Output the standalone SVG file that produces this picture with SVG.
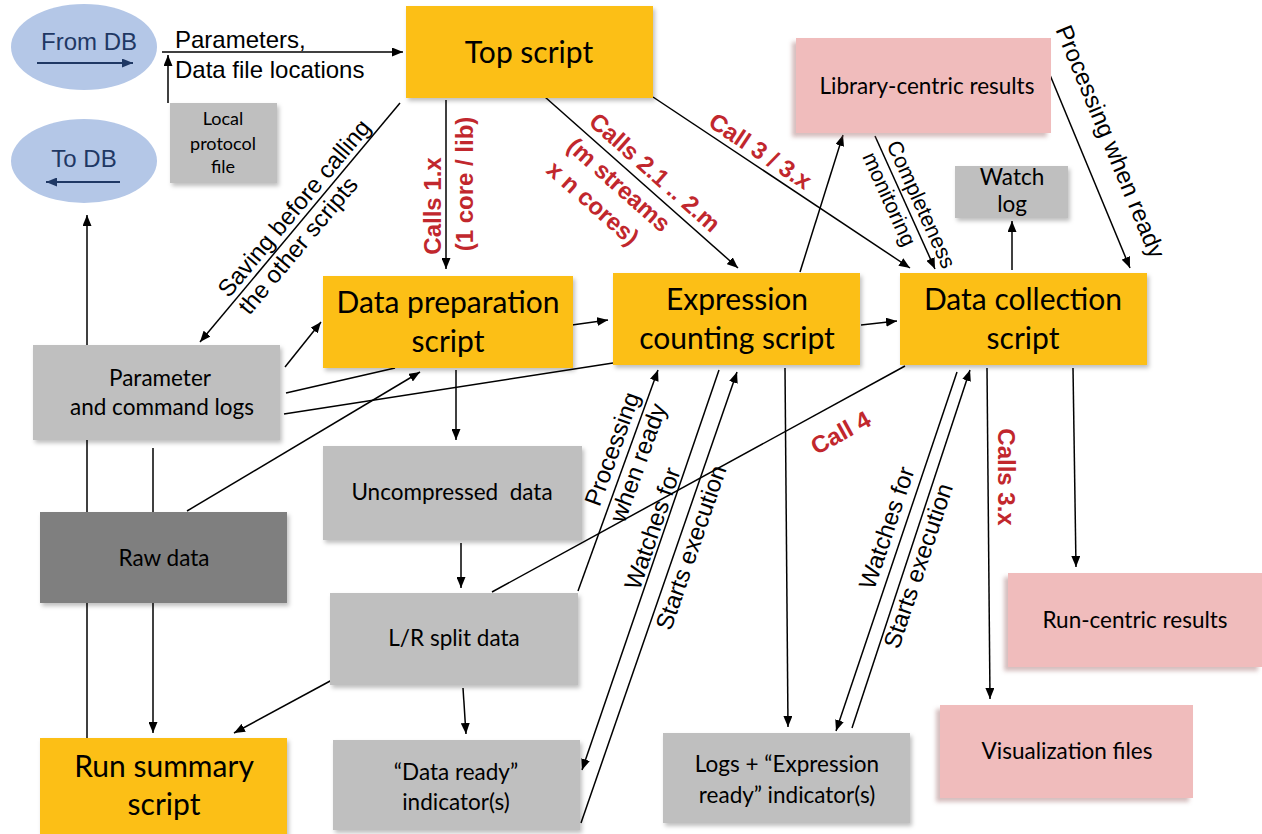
<svg xmlns="http://www.w3.org/2000/svg" width="1262" height="834" viewBox="0 0 1262 834">
<style>
.c{stroke:#000;stroke-width:1.5;fill:none}
.a{marker-end:url(#ah)}
.or{fill:#fcbf14;filter:url(#sh)}
.gr{fill:#bfbfbf;filter:url(#sh)}
.dg{fill:#7f7f7f;filter:url(#sh)}
.pk{fill:#f0bcbc;filter:url(#shp)}
.el{fill:#b4c7e7}
.bx{font-family:Lato,"Open Sans",sans-serif;fill:#000;text-anchor:middle}
.big{font-size:30px}
.sm{font-size:22.5px}
.xs{font-size:18px}
.lbl{font-family:"Liberation Sans",Arial,sans-serif;font-size:24px;fill:#000}
.red{font-family:"Liberation Sans",Arial,sans-serif;font-size:24px;font-weight:bold;fill:#c1272d}
.db{font-family:"Liberation Sans",Arial,sans-serif;font-size:24px;fill:#1f3864;text-anchor:middle}
</style>
<defs>
<marker id="ah" markerWidth="11" markerHeight="9" refX="11" refY="4.5" orient="auto" markerUnits="userSpaceOnUse"><path d="M0,0 L11,4.5 L0,9 z" fill="#000"/></marker>
<marker id="ahn" markerWidth="11" markerHeight="9" refX="11" refY="4.5" orient="auto" markerUnits="userSpaceOnUse"><path d="M0,0 L11,4.5 L0,9 z" fill="#1f3864"/></marker>
<filter id="sh" x="-10%" y="-10%" width="130%" height="140%"><feDropShadow dx="2" dy="3" stdDeviation="2" flood-color="#000" flood-opacity="0.25"/></filter>
<filter id="shp" x="-10%" y="-10%" width="130%" height="140%"><feDropShadow dx="-4" dy="4" stdDeviation="2" flood-color="#a07070" flood-opacity="0.45"/></filter>
</defs>
<rect width="1262" height="834" fill="#fff"/>

<g id="connectors">
<line class="c a" x1="162" y1="52" x2="403" y2="52"/>
<line class="c a" x1="168" y1="103" x2="168" y2="55"/>
<line class="c a" x1="400" y1="103" x2="200" y2="342"/>
<line class="c a" x1="446" y1="100" x2="446" y2="269"/>
<line class="c a" x1="545" y1="97" x2="738" y2="268"/>
<line class="c a" x1="653" y1="97" x2="910" y2="268"/>
<line class="c a" x1="800" y1="272" x2="843" y2="135"/>
<line class="c a" x1="875" y1="136" x2="935" y2="269"/>
<line class="c a" x1="1012" y1="270" x2="1012" y2="221"/>
<line class="c a" x1="1050" y1="75" x2="1130" y2="268"/>
<line class="c a" x1="285" y1="367" x2="321" y2="322"/>
<line class="c" x1="286" y1="393" x2="395" y2="368"/>
<line class="c a" x1="572" y1="325" x2="608" y2="320"/>
<line class="c" x1="284" y1="414" x2="613" y2="363"/>
<line class="c a" x1="861" y1="325" x2="897" y2="321"/>
<line class="c a" x1="187" y1="511" x2="420" y2="372"/>
<line class="c a" x1="87" y1="738" x2="87" y2="215"/>
<line class="c a" x1="153" y1="448" x2="153" y2="733"/>
<line class="c" x1="905" y1="366" x2="492" y2="592"/>
<line class="c a" x1="578" y1="591" x2="658" y2="370"/>
<line class="c a" x1="719" y1="370" x2="582" y2="770"/>
<line class="c a" x1="581" y1="823" x2="737" y2="372"/>
<line class="c a" x1="785" y1="368" x2="788" y2="727"/>
<line class="c a" x1="957" y1="372" x2="836" y2="731"/>
<line class="c a" x1="852" y1="728" x2="970" y2="370"/>
<line class="c a" x1="987" y1="368" x2="990" y2="699"/>
<line class="c a" x1="1073" y1="368" x2="1076" y2="567"/>
<line class="c a" x1="456" y1="370" x2="456" y2="440"/>
<line class="c a" x1="461" y1="543" x2="461" y2="588"/>
<line class="c a" x1="463" y1="688" x2="466" y2="734"/>
<line class="c a" x1="332" y1="680" x2="234" y2="733"/>

<text class="lbl" x="175" y="48">Parameters,</text>
<text class="lbl" x="175" y="78">Data file locations</text>
<g transform="translate(305,214) rotate(-50)" class="lbl">
<text x="-114" y="-4">Saving before calling</text>
<text x="-114" y="23">the other scripts</text>
</g>
<text class="red" transform="translate(441,206) rotate(-90)" text-anchor="middle">Calls 1.x</text>
<text class="red" transform="translate(473,184) rotate(-90)" text-anchor="middle">(1 core / lib)</text>
<g class="red" transform="translate(657,196) rotate(41.5)">
<text x="-100" y="-8">Calls 2.1 .. 2.m</text>
<text x="-100" y="25">(m streams</text>
<text x="-100" y="56">x n cores)</text>
</g>
<text class="red" transform="translate(760,168) rotate(33.6)" x="-9" y="-6" text-anchor="middle">Call 3 / 3.x</text>
<g class="lbl" transform="translate(905,203) rotate(65.6)" text-anchor="middle">
<text x="8" y="-7" font-size="21.5">Completeness</text>
<text x="-10" y="20" font-size="21.5">monitoring</text>
</g>
<text class="lbl" transform="translate(1078,142) rotate(67.5)" x="12" y="-22" text-anchor="middle" font-size="25">Processing when ready</text>
<g class="lbl" transform="translate(630,447) rotate(-70)" text-anchor="middle">
<text x="-8" y="-8">Processing</text>
<text x="-12" y="21">when ready</text>
</g>
<text class="lbl" transform="translate(663,532) rotate(-71)" x="0" y="-3" text-anchor="middle">Watches for</text>
<text class="lbl" transform="translate(678,543) rotate(-71)" x="0" y="22" text-anchor="middle">Starts execution</text>
<text class="lbl" transform="translate(902,533) rotate(-71.3)" x="0" y="-8" text-anchor="middle">Watches for</text>
<text class="lbl" transform="translate(907,562) rotate(-71.5)" x="0" y="20" text-anchor="middle">Starts execution</text>
<text class="red" transform="translate(841,402) rotate(-28.7)" x="-15" y="35" text-anchor="middle">Call 4</text>
<text class="red" transform="translate(998,477) rotate(90)" text-anchor="middle">Calls 3.x</text>
</g>

<g id="from-db">
<ellipse class="el" cx="84" cy="47" rx="73" ry="43"/>
<text class="db" x="89" y="50">From DB</text>
<line x1="37" y1="63" x2="133" y2="63" stroke="#1f3864" stroke-width="1.8" marker-end="url(#ahn)"/>
</g>
<g id="to-db">
<ellipse class="el" cx="84" cy="161" rx="73" ry="42"/>
<text class="db" x="84" y="167">To DB</text>
<line x1="120" y1="182" x2="46" y2="182" stroke="#1f3864" stroke-width="1.8" marker-end="url(#ahn)"/>
</g>
<g id="top-script">
<rect class="or" x="406" y="6" width="247" height="92"/>
<text class="bx big" x="529" y="63">Top script</text>
</g>
<g id="local-protocol">
<rect class="gr" x="170" y="103" width="107" height="80"/>
<text class="bx xs" x="223" y="125">Local</text>
<text class="bx xs" x="223" y="150">protocol</text>
<text class="bx xs" x="223" y="173">file</text>
</g>
<g id="library-centric">
<rect class="pk" x="796" y="38" width="255" height="95"/>
<text class="bx sm" x="927" y="94">Library-centric results</text>
</g>
<g id="watch-log">
<rect class="gr" x="955" y="166" width="113" height="52"/>
<text class="bx sm" x="1012" y="185">Watch</text>
<text class="bx sm" x="1012" y="212">log</text>
</g>
<g id="data-prep">
<rect class="or" x="323" y="276" width="250" height="92"/>
<text class="bx big" x="448" y="313">Data preparation</text>
<text class="bx big" x="448" y="352">script</text>
</g>
<g id="expression-counting">
<rect class="or" x="613" y="273" width="247" height="92"/>
<text class="bx big" x="737" y="310">Expression</text>
<text class="bx big" x="737" y="349">counting script</text>
</g>
<g id="data-collection">
<rect class="or" x="900" y="273" width="247" height="92"/>
<text class="bx big" x="1023" y="310">Data collection</text>
<text class="bx big" x="1023" y="349">script</text>
</g>
<g id="param-logs">
<rect class="gr" x="33" y="345" width="247" height="95"/>
<text class="bx sm" x="160" y="386">Parameter</text>
<text class="bx sm" x="162" y="415">and command logs</text>
</g>
<g id="uncompressed">
<rect class="gr" x="323" y="446" width="259" height="94"/>
<text class="bx sm" x="452" y="500" xml:space="preserve">Uncompressed  data</text>
</g>
<g id="raw-data">
<rect class="dg" x="40" y="512" width="247" height="91"/>
<text class="bx sm" x="164" y="566">Raw data</text>
</g>
<g id="lr-split">
<rect class="gr" x="330" y="593" width="248" height="92"/>
<text class="bx sm" x="454" y="646">L/R split data</text>
</g>
<g id="run-summary">
<rect class="or" x="40" y="738" width="247" height="100"/>
<text class="bx big" x="164" y="777">Run summary</text>
<text class="bx big" x="164" y="815">script</text>
</g>
<g id="data-ready">
<rect class="gr" x="333" y="740" width="247" height="90"/>
<text class="bx sm" x="456" y="780">“Data ready”</text>
<text class="bx sm" x="456" y="810">indicator(s)</text>
</g>
<g id="expression-ready">
<rect class="gr" x="663" y="733" width="247" height="90"/>
<text class="bx sm" x="787" y="772">Logs + “Expression</text>
<text class="bx sm" x="787" y="803">ready” indicator(s)</text>
</g>
<g id="run-centric">
<rect class="pk" x="1008" y="573" width="254" height="94"/>
<text class="bx sm" x="1135" y="628">Run-centric results</text>
</g>
<g id="visualization">
<rect class="pk" x="940" y="705" width="253" height="93"/>
<text class="bx sm" x="1067" y="759">Visualization files</text>
</g>
</svg>
